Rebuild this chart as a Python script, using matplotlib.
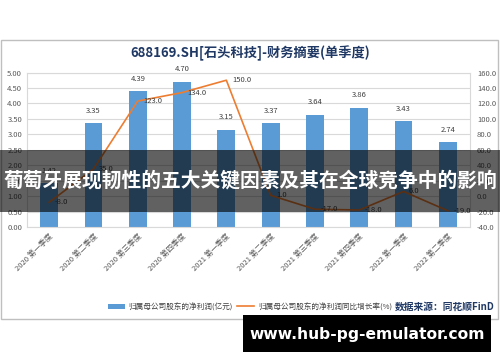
import numpy as np
import matplotlib.pyplot as plt
from matplotlib.patches import Rectangle

plt.rcParams['font.family'] = ['Noto Sans CJK SC', 'DejaVu Sans']

# 数据
quarters = ["2020 第一季度", "2020 第二季度", "2020 第三季度", "2020 第四季度",
            "2021 第一季度", "2021 第二季度", "2021 第三季度", "2021 第四季度",
            "2022 第一季度", "2022 第二季度"]
profit = [1.42, 3.35, 4.39, 4.70, 3.15, 3.37, 3.64, 3.86, 3.43, 2.74]
growth = [-8.0, 35.0, 123.0, 134.0, 150.0, 1.0, -17.0, -18.0, 6.0, -19.0]

title = "688169.SH[石头科技]-财务摘要(单季度)"
banner = "葡萄牙展现韧性的五大关键因素及其在全球竞争中的影响"
site = "www.hub-pg-emulator.com"

W, H = 500, 362
fig = plt.figure(figsize=(W / 100, H / 100), dpi=100)

def fx(px):
    return px / W

def fy(py):
    return 1 - py / H

# 外框
fig.patches.append(Rectangle((fx(0.5), fy(319)), fx(497), 279 / H, transform=fig.transFigure,
                             fill=False, edgecolor="#bfbfbf", lw=1))

ax = fig.add_axes([fx(27), fy(227), fx(443), 154.5 / H])
x = np.arange(len(quarters))
bars = ax.bar(x, profit, width=0.4, color="#5b9bd5", zorder=2,
              label="归属母公司股东的净利润(亿元)")
ax.set_ylim(0, 5)
ax.set_xlim(-0.5, len(quarters) - 0.5)
ax.set_yticks(np.arange(0, 5.01, 0.5))
ax.set_yticklabels([f"{v:.2f}" for v in np.arange(0, 5.01, 0.5)])
ax.yaxis.grid(True, color="#d9d9d9", lw=0.8, zorder=0)
ax.set_xticks(x)
ax.set_xticklabels(quarters, rotation=45, ha="right", rotation_mode="anchor")
ax.tick_params(axis="both", length=0, labelsize=5.5, labelcolor="#595959")
ax.tick_params(axis="x", pad=4)
for s in ax.spines.values():
    s.set_color("#d9d9d9")
    s.set_linewidth(0.8)

for xi, v in zip(x, profit):
    ax.annotate(f"{v:.2f}", (xi, v), xytext=(0, 6), textcoords="offset points",
                ha="center", va="bottom", fontsize=5.5, color="#404040")

ax2 = ax.twinx()
line, = ax2.plot(x, growth, color="#ed7d31", lw=1.2, zorder=3,
                 label="归属母公司股东的净利润同比增长率(%)")
ax2.set_ylim(-40, 160)
ax2.set_yticks(np.arange(-40, 161, 20))
ax2.set_yticklabels([f"{v:.1f}" for v in np.arange(-40, 161, 20)])
ax2.tick_params(axis="y", length=0, labelsize=5.5, labelcolor="#595959", pad=5)
for s in ax2.spines.values():
    s.set_visible(False)
for xi, v in zip(x, growth):
    ax2.annotate(f"{v:.1f}", (xi, v), xytext=(4, 0), textcoords="offset points",
                 ha="left", va="center", fontsize=5.5, color="#404040")

fig.text(0.5, fy(53), title, ha="center", va="center", fontsize=9.5,
         fontweight="bold", color="#1f3864")

fig.legend(handles=[bars, line], loc="center", bbox_to_anchor=(fx(250), fy(307)),
           ncol=2, frameon=False, fontsize=5.5, handlelength=2.2, columnspacing=0.6,
           handletextpad=0.5, labelcolor="#404040")
fig.text(fx(495), fy(307), "数据来源：同花顺FinD", ha="right", va="center",
         fontsize=7, fontweight="bold", color="#1f3864")

# 横幅
fig.patches.append(Rectangle((0, fy(212)), 1, 62 / H, transform=fig.transFigure,
                             facecolor="black", alpha=0.62, zorder=10))
fig.text(0.5, fy(181), banner, ha="center", va="center", fontsize=14.2,
         fontweight="bold", color="white", zorder=11)

# 网址
fig.patches.append(Rectangle((fx(243), fy(352)), fx(248), 37 / H, transform=fig.transFigure,
                             facecolor="black", zorder=10))
fig.text(fx(367), fy(334), site, ha="center", va="center", fontsize=11.2,
         fontweight="bold", color="white", family=["DejaVu Sans"], zorder=11)

fig.savefig("out.png", dpi=100)
